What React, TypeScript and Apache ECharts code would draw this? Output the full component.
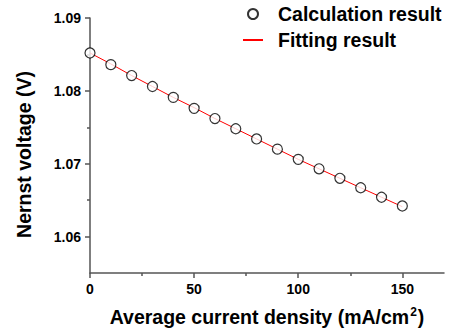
import React, { useEffect, useRef } from "react";
import * as echarts from "echarts";

const currentDensity = [0, 10, 20, 30, 40, 50, 60, 70, 80, 90, 100, 110, 120, 130, 140, 150];
const calcVoltage = [1.0852, 1.0836, 1.0821, 1.0806, 1.0791, 1.0776, 1.0762, 1.0748, 1.0734, 1.0720, 1.0706, 1.0693, 1.0680, 1.0667, 1.0654, 1.0642];
const fitVoltage = [1.0852, 1.0837, 1.0821, 1.0806, 1.0791, 1.0777, 1.0762, 1.0748, 1.0734, 1.0720, 1.0706, 1.0693, 1.0680, 1.0667, 1.0654, 1.0641];
const xMajorTicks = [0, 50, 100, 150];
const xMinorTicks = [25, 75, 125];
const yMajorTicks = [1.06, 1.07, 1.08, 1.09];
const yMinorTicks = [1.065, 1.075, 1.085];

const FONT = "Arial, 'Liberation Sans', sans-serif";
const AXIS_COLOR = "#555";

export default function App() {
  const ref = useRef<HTMLDivElement>(null);
  useEffect(() => {
    document.body.style.margin = "0";
    const chart = echarts.init(ref.current!, null, { renderer: "svg" });
    const axisLine = { show: true, lineStyle: { color: AXIS_COLOR, width: 1.5 } };
    chart.setOption({
      animation: false,
      backgroundColor: "#fff",
      grid: { left: 90, right: 8, top: 18, bottom: 63 },
      legend: {
        orient: "vertical",
        left: 237,
        top: -1,
        itemWidth: 20,
        itemHeight: 10,
        itemGap: 6,
        textStyle: { fontSize: 19.5, fontWeight: "bold", fontFamily: FONT, color: "#000", padding: [0, 0, 0, 10] },
        data: [
          { name: "Calculation result", icon: "circle" },
          { name: "Fitting result", itemStyle: { opacity: 0 } },
        ],
      },
      xAxis: [
        {
          type: "value",
          position: "bottom",
          min: 0,
          max: 170,
          axisLine,
          splitLine: { show: false },
          axisTick: { show: true, inside: false, length: 5, customValues: xMajorTicks, lineStyle: { color: AXIS_COLOR, width: 1.5 } },
          axisLabel: { customValues: xMajorTicks, margin: 9, fontSize: 14, fontWeight: "bold", fontFamily: FONT, color: "#000" },
          name: "Average current density (mA/cm{sup|2})",
          nameLocation: "middle",
          nameGap: 33,
          nameTextStyle: {
            fontSize: 19.5,
            fontWeight: "bold",
            fontFamily: FONT,
            color: "#000",
            rich: { sup: { fontSize: 12, fontWeight: "bold", fontFamily: FONT, color: "#000", verticalAlign: "top", padding: [0, 1, 10, 1] } },
          },
        },
        {
          type: "value",
          position: "bottom",
          min: 0,
          max: 170,
          axisLine: { show: false },
          splitLine: { show: false },
          axisLabel: { show: false },
          axisTick: { show: true, inside: false, length: 3, customValues: xMinorTicks, lineStyle: { color: AXIS_COLOR, width: 1.5 } },
        },
      ],
      yAxis: [
        {
          type: "value",
          position: "left",
          min: 1.055,
          max: 1.09,
          axisLine,
          splitLine: { show: false },
          axisTick: { show: true, inside: false, length: 5, customValues: yMajorTicks, lineStyle: { color: AXIS_COLOR, width: 1.5 } },
          axisLabel: {
            customValues: yMajorTicks,
            margin: 9,
            fontSize: 14,
            fontWeight: "bold",
            fontFamily: FONT,
            color: "#000",
            formatter: (v: number) => v.toFixed(2),
          },
          name: "Nernst voltage (V)",
          nameLocation: "middle",
          nameGap: 56,
          nameTextStyle: { fontSize: 19.5, fontWeight: "bold", fontFamily: FONT, color: "#000", padding: [0, 18, 0, 0] },
        },
        {
          type: "value",
          position: "left",
          min: 1.055,
          max: 1.09,
          axisLine: { show: false },
          splitLine: { show: false },
          axisLabel: { show: false },
          axisTick: { show: true, inside: false, length: 3, customValues: yMinorTicks, lineStyle: { color: AXIS_COLOR, width: 1.5 } },
        },
      ],
      series: [
        {
          name: "Fitting result",
          type: "line",
          xAxisIndex: 0,
          yAxisIndex: 0,
          data: currentDensity.map((x, i) => [x, fitVoltage[i]]),
          symbol: "none",
          lineStyle: { color: "#ff0000", width: 1 },
          itemStyle: { color: "#ff0000" },
          z: 2,
        },
        {
          name: "Calculation result",
          type: "scatter",
          xAxisIndex: 0,
          yAxisIndex: 0,
          data: currentDensity.map((x, i) => [x, calcVoltage[i]]),
          symbol: "circle",
          symbolSize: 10,
          itemStyle: { color: "#fff", borderColor: "#000", borderWidth: 1.2 },
          z: 3,
        },
      ],
    });
    return () => chart.dispose();
  }, []);
  return <div ref={ref} style={{ width: 452, height: 336 }} />;
}
